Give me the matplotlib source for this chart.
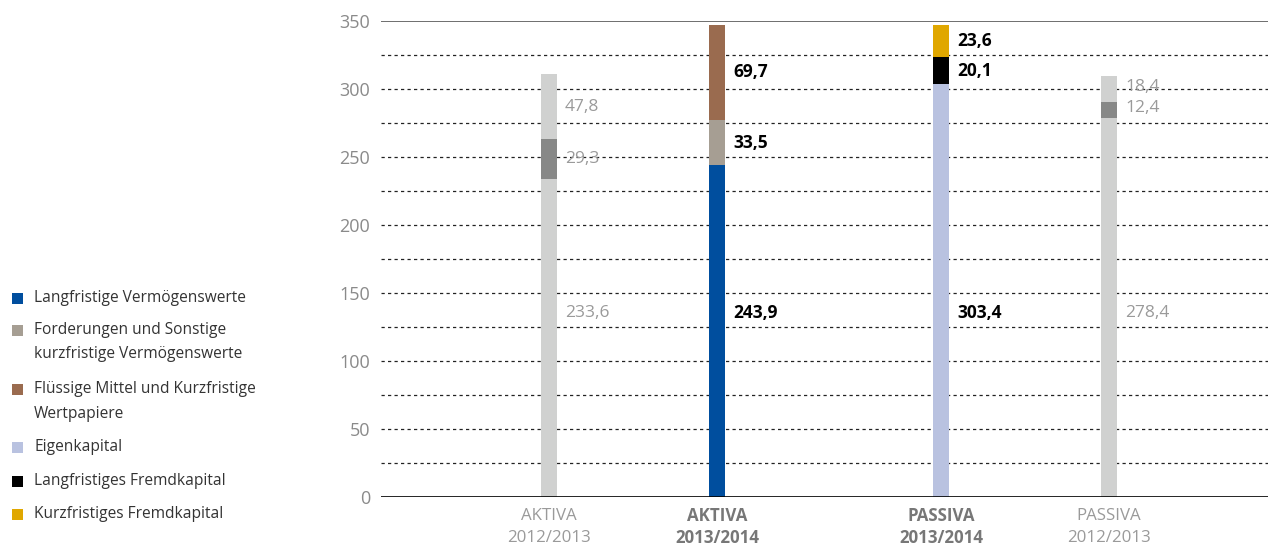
import matplotlib
matplotlib.use("Agg")
import matplotlib.pyplot as plt
from matplotlib.patches import Rectangle

plt.rcParams['font.family'] = ['Open Sans', 'DejaVu Sans']

# Category labels (two lines each) and whether they belong to the current year
categories = ["AKTIVA\n2012/2013", "AKTIVA\n2013/2014", "PASSIVA\n2013/2014", "PASSIVA\n2012/2013"]
current_year = [False, True, True, False]

# Stacked segment values, bottom to top, per category
seg_values = [
    [233.6, 29.3, 47.8],
    [243.9, 33.5, 69.7],
    [303.4, 20.1, 23.6],
    [278.4, 12.4, 18.4],
]
seg_labels = [
    ["233,6", "29,3", "47,8"],
    ["243,9", "33,5", "69,7"],
    ["303,4", "20,1", "23,6"],
    ["278,4", "12,4", "18,4"],
]
seg_colors = [
    ["#d0d1d0", "#878887", "#d0d1d0"],
    ["#004e9e", "#a69e93", "#9a6b4f"],
    ["#b9c2e0", "#000000", "#e0a700"],
    ["#d0d1d0", "#878887", "#d0d1d0"],
]

legend_labels = [
    "Langfristige Vermögenswerte",
    "Forderungen und Sonstige\nkurzfristige Vermögenswerte",
    "Flüssige Mittel und Kurzfristige\nWertpapiere",
    "Eigenkapital",
    "Langfristiges Fremdkapital",
    "Kurzfristiges Fremdkapital",
]
legend_colors = ["#004e9e", "#a69e93", "#9a6b4f", "#b9c2e0", "#000000", "#e0a700"]

y_ticks = [0, 50, 100, 150, 200, 250, 300, 350]

W, H = 1268, 545
fig = plt.figure(figsize=(W / 100, H / 100), dpi=100)
ax = fig.add_axes([381 / W, 1 - 497 / H, (W - 381) / W, 476 / H])

x_pos = [1.0, 2.0, 10 / 3, 13 / 3]
bar_w = 16 / 168

ax.set_xlim(0, (W - 381) / 168)
ax.set_ylim(0, 350)

# gridlines
for y in range(25, 350, 25):
    ax.axhline(y, color="#222222", lw=0.9, ls=(0, (2.6, 2.6)), zorder=1)
ax.axhline(350, color="#555555", lw=1.2, zorder=1)
ax.axhline(0, color="#000000", lw=1.2, zorder=3)

for i, x in enumerate(x_pos):
    bottom = 0.0
    bold = current_year[i]
    tcol = "#000000" if bold else "#9a9a9a"
    for j, v in enumerate(seg_values[i]):
        ax.bar(x, v, bottom=bottom, width=bar_w, color=seg_colors[i][j], zorder=2, linewidth=0)
        ly = 135 if j == 0 else bottom + v / 2
        if i == 3 and j >= 1:
            ly += 1.5
        ax.text(x + bar_w / 2 + 8 / 168, ly, seg_labels[i][j], ha="left", va="center",
                fontsize=12.5, color=tcol, fontweight="bold" if bold else "normal", zorder=4)
        bottom += v

ax.set_yticks(y_ticks)
ax.set_yticklabels([str(t) for t in y_ticks], fontsize=13, color="#8a8a8a")
ax.tick_params(axis="y", length=0, pad=8)
ax.set_xticks([])
for s in ax.spines.values():
    s.set_visible(False)

for i, x in enumerate(x_pos):
    bold = current_year[i]
    for k, line in enumerate(categories[i].split("\n")):
        ax.text(x, -14 - k * 16.5, line, ha="center", va="center", fontsize=12.2,
                color="#777777" if bold else "#9a9a9a", fontweight="bold" if bold else "normal",
                clip_on=False)

# legend: marker beside the first line, wrapped lines below
rows_y = [298, 330, 389, 447, 481, 514]
for lbl, col, ry in zip(legend_labels, legend_colors, rows_y):
    fig.patches.append(Rectangle((12 / W, 1 - (ry + 5.5) / H), 11 / W, 11 / H,
                                 transform=fig.transFigure, color=col, lw=0))
    for k, line in enumerate(lbl.split("\n")):
        fig.text(34 / W, 1 - (ry + k * 24.5) / H, line, ha="left", va="center",
                 fontsize=11.2, color="#333333")

fig.savefig("out.png", dpi=100)
